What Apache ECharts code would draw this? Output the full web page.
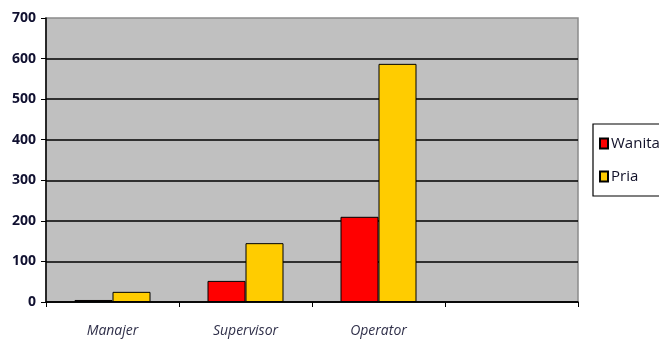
<!DOCTYPE html>
<html><head><meta charset="utf-8">
<script src="https://cdn.jsdelivr.net/npm/echarts@6/dist/echarts.min.js"></script>
<style>html,body{margin:0;padding:0;background:#fff}#c{width:659px;height:342px}</style>
</head><body><div id="c"></div>
<script>
const categories = ['Manajer', 'Supervisor', 'Operator', ''];
const wanita = [5, 52, 210, null];
const pria = [25, 145, 587, null];
const yTicks = [0, 100, 200, 300, 400, 500, 600, 700];

const chart = echarts.init(document.getElementById('c'));
chart.setOption({
  animation: false,
  backgroundColor: '#ffffff',
  grid: { left: 46, right: 81, top: 18, bottom: 40, show: true, backgroundColor: '#c0c0c0', borderColor: '#8a8a8a', borderWidth: 1.5 },
  legend: {
    left: 593, top: 124, orient: 'vertical', itemWidth: 8, itemHeight: 10, itemGap: 18,
    borderColor: '#000', borderWidth: 1.2, padding: [12, 12, 12, 6], backgroundColor: '#fff',
    textStyle: { fontFamily: 'Open Sans', fontSize: 15, color: '#101028', padding: [0, 0, 0, -2] },
    data: [{ name: 'Wanita', icon: 'rect' }, { name: 'Pria', icon: 'rect' }]
  },
  xAxis: {
    type: 'category', data: categories,
    axisLine: { lineStyle: { color: '#000', width: 1.5 } },
    axisTick: { show: true, alignWithLabel: false, length: 5, lineStyle: { color: '#000' } },
    axisLabel: { fontFamily: 'Open Sans', fontStyle: 'italic', fontSize: 14, color: '#30304a', margin: 22 }
  },
  yAxis: {
    type: 'value', min: yTicks[0], max: yTicks[yTicks.length - 1], interval: 100,
    axisLine: { show: true, lineStyle: { color: '#000', width: 1.5 } },
    axisTick: { show: true, length: 5, lineStyle: { color: '#000' } },
    axisLabel: { fontFamily: 'Open Sans', fontWeight: 'bold', fontSize: 14, color: '#101030', margin: 10 },
    splitLine: { showMaxLine: false, lineStyle: { color: '#000', width: 1.5 } }
  },
  series: [
    { name: 'Wanita', type: 'bar', data: wanita, barWidth: 38, barGap: '0%',
      itemStyle: { color: '#ff0000', borderColor: '#000', borderWidth: 1 } },
    { name: 'Pria', type: 'bar', data: pria, barWidth: 38, barGap: '0%',
      itemStyle: { color: '#ffcc00', borderColor: '#000', borderWidth: 1 } }
  ]
});
</script></body></html>
